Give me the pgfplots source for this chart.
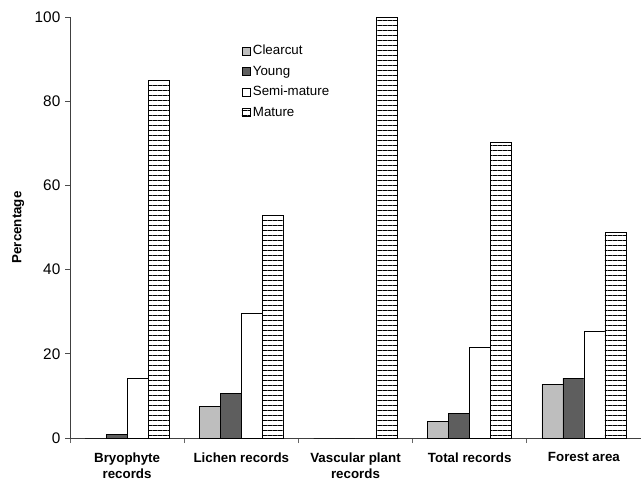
\documentclass[border=0pt]{standalone}
\usepackage{fontspec}
\setmainfont{Liberation Sans}
\usepackage{pgfplots}
\pgfplotsset{compat=1.18}
\usetikzlibrary{patterns.meta}
\definecolor{clearcut}{HTML}{BEBEBE}
\definecolor{young}{HTML}{5E5E5E}
\begin{document}
\begin{tikzpicture}
\begin{axis}[
  scale only axis, width=428.25pt, height=315.75pt,
  ybar=0pt, bar width=15.75pt,
  xmin=-0.5, xmax=4.5, ymin=0, ymax=100,
  axis lines*=left,
  axis line style={black!75, line width=0.6pt},
  tick align=outside,
  major tick length=3.75pt, minor tick length=3.75pt,
  xtick={0,1,2,3,4},
  xticklabels={{Bryophyte\\records},{Lichen records},{Vascular plant\\records},{Total records},{Forest area}},
  xticklabel style={align=center, font=\fontsize{10}{12}\selectfont\bfseries, yshift=-3.5pt},
  minor xtick={-0.5,0.5,1.5,2.5,3.5,4.5},
  major x tick style={draw=none},
  minor x tick style={draw=black!60, line width=0.6pt},
  ytick={0,20,40,60,80,100},
  y tick style={draw=black!70, line width=0.6pt},
  yticklabel style={font=\fontsize{11.5}{13}\selectfont},
  /pgf/number format/assume math mode=true,
  ylabel={Percentage},
  ylabel style={font=\fontsize{10}{12}\selectfont\bfseries, yshift=1pt},
  legend style={at={(0.30,0.94)}, anchor=north west, draw=none, fill=none,
    font=\fontsize{10}{12}\selectfont, row sep=2.8pt, inner sep=0pt},
  legend cell align=left,
  legend image code/.code={\draw[#1, line width=0.5pt] (0pt,-3pt) rectangle (6pt,3pt);},
]
\addplot[draw=black, line width=0.6pt, fill=clearcut] coordinates {(0,0) (1,7.4) (2,0) (3,3.9) (4,12.8)};
\addlegendentry{Clearcut}
\addplot[draw=black, line width=0.6pt, fill=young] coordinates {(0,0.9) (1,10.6) (2,0) (3,5.9) (4,14.2)};
\addlegendentry{Young}
\addplot[draw=black, line width=0.6pt, fill=white] coordinates {(0,14.2) (1,29.7) (2,0) (3,21.6) (4,25.4)};
\addlegendentry{Semi-mature}
\addplot[draw=black, line width=0.6pt, fill=white, postaction={pattern={Lines[angle=0,distance=3.75pt,line width=0.75pt]}}] coordinates {(0,85.0) (1,52.9) (2,100) (3,70.1) (4,48.9)};
\addlegendentry{Mature}
\coordinate (ll) at (rel axis cs:0,0);
\coordinate (ur) at (rel axis cs:1,1);
\end{axis}
\pgfresetboundingbox
\path[use as bounding box] ([xshift=-52.5pt,yshift=-32.25pt]ll) rectangle ([yshift=12.75pt]ur);
\end{tikzpicture}
\end{document}
